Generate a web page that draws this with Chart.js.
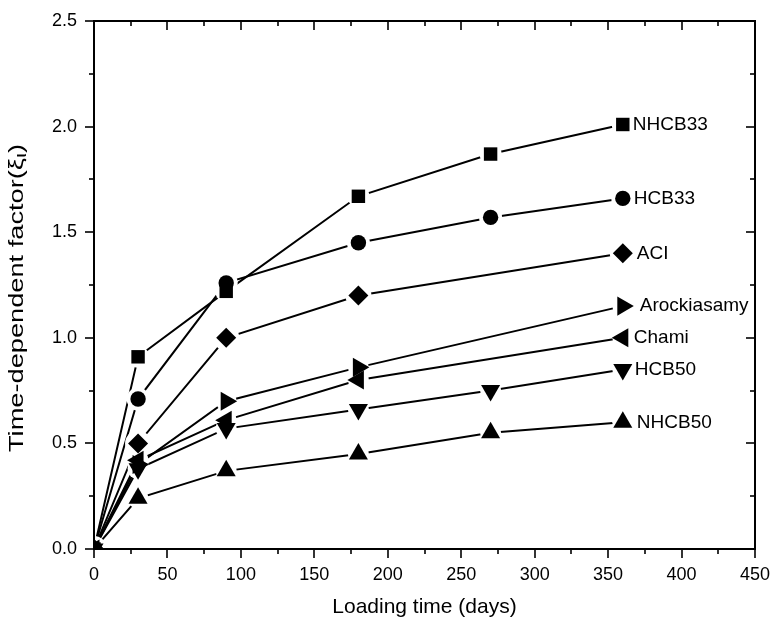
<!DOCTYPE html>
<html>
<head>
<meta charset="utf-8">
<script src="https://cdn.jsdelivr.net/npm/chart.js@4.4.0/dist/chart.umd.min.js"></script>
<style>
html,body{margin:0;padding:0;background:#fff}
canvas{display:block}
</style>
</head>
<body>
<canvas id="c" width="773" height="628"></canvas>
<script>
// loading time (days) and the seven curves
const days = [0, 30, 90, 180, 270, 360];
const seriesNames = ['NHCB33', 'HCB33', 'ACI', 'Arockiasamy', 'Chami', 'HCB50', 'NHCB50'];
const nhcb33 = [0, 0.91, 1.22, 1.67, 1.87, 2.01];
const hcb33 = [0, 0.71, 1.26, 1.45, 1.57, 1.66];
const aci = [0, 0.50, 1.00, 1.20, null, 1.40];
const arockiasamy = [0, 0.40, 0.70, 0.86, null, 1.15];
const chami = [0, 0.42, 0.61, 0.80, null, 1.00];
const hcb50 = [0, 0.38, 0.57, 0.66, 0.75, 0.85];
const nhcb50 = [0, 0.24, 0.37, 0.45, 0.55, 0.60];

// axis ranges / tick steps
const xMin = 0, xMax = 450, xStep = 50, xMinorStep = 25;
const yMin = 0, yMax = 2.5, yStep = 0.5, yMinorStep = 0.25;
const xTitle = 'Loading time (days)';
const yTitleMain = 'Time-dependent factor(\u03BE', yTitleSub = '\u03B9', yTitleEnd = ')';

// marker look for each series (same order as seriesNames)
const markers = [
  {style: 'rect', rot: 0, r: 9.5, halo: 11, gap: 10},
  {style: 'circle', rot: 0, r: 7.7, halo: 11.5, gap: 11},
  {style: 'rectRot', rot: 0, r: 10, halo: 13, gap: 14},
  {style: 'triangle', rot: 90, r: 11, halo: 10.5, gap: 17},
  {style: 'triangle', rot: -90, r: 11, halo: 10.5, gap: 11},
  {style: 'triangle', rot: 180, r: 11, halo: 10.5, gap: 12},
  {style: 'triangle', rot: 0, r: 11, halo: 10.5, gap: 14}
];

const FONT = "'Liberation Sans', Arial, sans-serif";
const values = [nhcb33, hcb33, aci, arockiasamy, chami, hcb50, nhcb50];
const pts = v => days.map((d, i) => ({x: d, y: v[i]}));

const datasets = [];
values.forEach((v, i) => {
  const m = markers[i];
  // the connecting line
  datasets.push({label: seriesNames[i], data: pts(v), showLine: true, spanGaps: true,
    borderColor: '#000', borderWidth: 2, pointRadius: 0, order: 3, clip: 0});
  // white halo so the line stops short of the symbol
  datasets.push({data: pts(v), showLine: false, pointStyle: 'circle', pointRadius: m.halo,
    pointBackgroundColor: '#fff', pointBorderWidth: 0, order: 2, clip: 0});
  // the symbol itself
  datasets.push({data: pts(v), showLine: false, pointStyle: m.style, pointRotation: m.rot,
    pointRadius: m.r, pointBackgroundColor: '#000', pointBorderWidth: 0, order: 1, clip: 0});
});

// series names next to the last symbol
const endLabels = {
  id: 'endLabels',
  afterDatasetsDraw(chart) {
    const ctx = chart.ctx;
    ctx.save();
    ctx.font = '19px ' + FONT;
    ctx.fillStyle = '#000';
    ctx.textBaseline = 'middle';
    seriesNames.forEach((name, i) => {
      const p = chart.getDatasetMeta(i * 3 + 2).data;
      const last = p[p.length - 1];
      ctx.fillText(name, last.x + markers[i].gap, last.y);
    });
    ctx.restore();
  }
};

// rotated y title with the subscript, stretched like the original
const yTitle = {
  id: 'yTitle',
  afterDraw(chart) {
    const ctx = chart.ctx;
    const parts = [[yTitleMain, 21, 0], [yTitleSub, 17, 4], [yTitleEnd, 21, 0]];
    ctx.save();
    ctx.fillStyle = '#000';
    ctx.textBaseline = 'middle';
    let w = 0;
    parts.forEach(p => { ctx.font = p[1] + 'px ' + FONT; p.push(ctx.measureText(p[0]).width); w += p[3]; });
    ctx.translate(17, 298);
    ctx.rotate(-Math.PI / 2);
    ctx.scale(308 / w, 1);
    let x = -w / 2;
    parts.forEach(p => { ctx.font = p[1] + 'px ' + FONT; ctx.fillText(p[0], x, p[2]); x += p[3]; });
    ctx.restore();
  }
};

// box frame with origin-style ticks (out on bottom/left, in on top/right)
const frame = {
  id: 'frame',
  afterDraw(chart) {
    const {ctx, chartArea: a, scales: {x, y}} = chart;
    ctx.save();
    ctx.strokeStyle = '#000';
    ctx.lineWidth = 2;
    ctx.strokeRect(a.left, a.top, a.right - a.left, a.bottom - a.top);
    ctx.lineWidth = 1.6;
    const seg = (x1, y1, x2, y2) => { ctx.beginPath(); ctx.moveTo(x1, y1); ctx.lineTo(x2, y2); ctx.stroke(); };
    for (let v = xMin; v <= xMax + 1e-9; v += xMinorStep) {
      const px = Math.round(x.getPixelForValue(v));
      const len = Math.abs(v % xStep) < 1e-9 ? 9 : 5;
      seg(px, a.bottom, px, a.bottom + len);
      seg(px, a.top, px, a.top + len);
    }
    for (let v = yMin; v <= yMax + 1e-9; v += yMinorStep) {
      const py = Math.round(y.getPixelForValue(v));
      const len = Math.abs((v / yStep) - Math.round(v / yStep)) < 1e-6 ? 9 : 5;
      seg(a.left - len, py, a.left, py);
      seg(a.right - len, py, a.right, py);
    }
    ctx.restore();
  }
};

const noPad = s => { s.paddingTop = 0; s.paddingBottom = 0; s.paddingLeft = 0; s.paddingRight = 0; };

new Chart(document.getElementById('c'), {
  type: 'scatter',
  data: {datasets},
  options: {
    responsive: false,
    animation: false,
    layout: {padding: {left: 0, right: 18, top: 21, bottom: 0}},
    plugins: {legend: {display: false}, tooltip: {enabled: false}},
    scales: {
      x: {
        type: 'linear', min: xMin, max: xMax,
        ticks: {stepSize: xStep, padding: 15, color: '#000', font: {family: FONT, size: 18}, maxRotation: 0},
        grid: {display: false, drawTicks: false},
        border: {display: false},
        title: {display: true, text: xTitle, color: '#000',
          font: {family: FONT, size: 21}, padding: {top: 0, bottom: 8}},
        afterFit: s => { s.height = 79; noPad(s); }
      },
      y: {
        min: yMin, max: yMax,
        ticks: {stepSize: yStep, padding: 17, color: '#000', font: {family: FONT, size: 18},
          callback: v => v.toFixed(1)},
        grid: {display: false, drawTicks: false},
        border: {display: false},
        title: {display: false},
        afterFit: s => { s.width = 94; noPad(s); }
      }
    }
  },
  plugins: [endLabels, yTitle, frame]
});
</script>
</body>
</html>
